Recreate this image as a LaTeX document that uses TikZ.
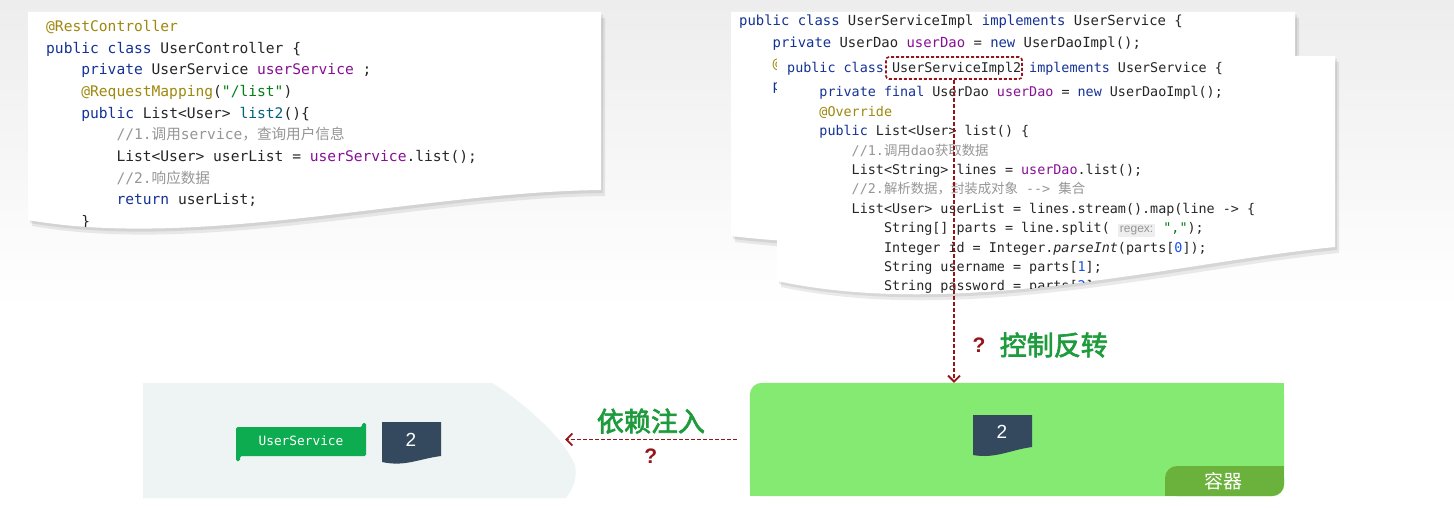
\documentclass[tikz,border=0pt]{standalone}
\usepackage{fontspec}
\usepackage{xcolor}
\usetikzlibrary{arrows.meta, positioning, calc}
\setsansfont{Liberation Sans}
\newfontfamily\codefont{DejaVu Sans Mono}
\newfontfamily\cjk{Noto Sans CJK SC}
\newfontfamily\cjkhand[FakeBold=2.5]{Noto Sans CJK SC}
\definecolor{kwblue}{RGB}{20, 50, 150}
\definecolor{fieldpurple}{RGB}{135, 16, 148}
\definecolor{annolive}{RGB}{158, 136, 13}
\definecolor{strgreen}{RGB}{6, 125, 23}
\definecolor{cmtgray}{RGB}{150, 150, 150}
\definecolor{fnteal}{RGB}{0, 98, 122}
\definecolor{numblue}{RGB}{23, 80, 235}
\definecolor{hintbg}{RGB}{238, 238, 238}
\definecolor{arrowred}{RGB}{150, 20, 25}
\definecolor{handgreen}{RGB}{30, 155, 60}
\definecolor{iocgreen}{RGB}{132, 234, 114}
\definecolor{tabgreen}{RGB}{107, 178, 60}
\definecolor{beanslate}{RGB}{52, 73, 94}
\definecolor{bannergreen}{RGB}{14, 172, 80}
\definecolor{palebg}{RGB}{238, 243, 244}
% code colouring
\newcommand{\kw}[1]{\textcolor{kwblue}{#1}}
\newcommand{\fld}[1]{\textcolor{fieldpurple}{#1}}
\newcommand{\ann}[1]{\textcolor{annolive}{#1}}
\newcommand{\strg}[1]{\textcolor{strgreen}{#1}}
\newcommand{\cmt}[1]{\textcolor{cmtgray}{#1}}
\newcommand{\fnname}[1]{\textcolor{fnteal}{#1}}
\newcommand{\numb}[1]{\textcolor{numblue}{#1}}
\newcommand{\tb}{\hspace*{2.408em}}
\newcommand{\hint}[1]{{\setlength{\fboxsep}{2pt}\colorbox{hintbg}{\sffamily\fontsize{12}{12}\selectfont\textcolor{cmtgray}{#1}}}}
% paper outlines
\newcommand{\leftpaper}{(28,12) -- (601,12) -- (601,190) .. controls (420,192) and (200,250) .. (28,220) -- cycle}
\newcommand{\backpaper}{(731,12) -- (1295,12) -- (1295,200) .. controls (1100,205) and (950,262) .. (731,236) -- cycle}
\newcommand{\frontpaper}{(777,56) -- (1335,56) -- (1335,247) .. controls (1180,262) and (960,320) .. (777,281) -- cycle}

\begin{document}
\begin{tikzpicture}[x=1pt, y=-1pt, >={Straight Barb[length=6pt, width=12pt]},
    code/.style={anchor=north west, inner sep=0pt, align=left, text=black!85},
    papershadow/.style={fill=black, opacity=0.08},
    flow/.style={->, arrowred, line width=1.8pt, dash pattern=on 4pt off 2pt},
    handlabel/.style={inner sep=0pt, text=handgreen, font=\cjkhand\fontsize{27}{27}\selectfont},
    qmark/.style={inner sep=0pt, text=arrowred, font=\sffamily\bfseries\fontsize{21}{21}\selectfont},
    beanlabel/.style={inner sep=0pt, text=white, font=\sffamily\fontsize{19}{19}\selectfont}]
    \useasboundingbox (0,0) rectangle (1454,508);
    \fill[white] (0,0) rectangle (1454,508);
    % light grey fading downwards
    \foreach \i [evaluate=\i as \op using 0.07*(1-\i/30)] in {0,...,29}
        \fill[black, opacity=\op] (0,\i*10) rectangle (1454,\i*10+10);

    % controller code
    \fill[papershadow, shift={(2,3)}] \leftpaper;
    \fill[papershadow, shift={(4,6)}] \leftpaper;
    \fill[white] \leftpaper;
    \begin{scope}
        \clip \leftpaper;
        \node[code, font=\codefont\fontsize{14.6}{21.7}\selectfont] (ctrl) at (46,20) {%
            \ann{@RestController}\\
            \kw{public class} UserController \{\\
            \tb\kw{private} UserService \fld{userService} ;\\
            \tb\ann{@RequestMapping}(\strg{"/list"})\\
            \tb\kw{public} List<User> \fnname{list2}()\{\\
            \tb\tb\cmt{//1.{\cjk 调用}service{\cjk ，查询用户信息}}\\
            \tb\tb List<User> userList = \fld{userService}.list();\\
            \tb\tb\cmt{//2.{\cjk 响应数据}}\\
            \tb\tb\kw{return} userList;\\
            \tb\}};
    \end{scope}

    % old service implementation
    \fill[papershadow, shift={(2,3)}] \backpaper;
    \fill[papershadow, shift={(4,6)}] \backpaper;
    \fill[white] \backpaper;
    \begin{scope}
        \clip \backpaper;
        \node[code, font=\codefont\fontsize{13.9}{21.5}\selectfont] (oldimpl) at (739,15) {%
            \kw{public class} UserServiceImpl \kw{implements} UserService \{\\
            \tb\kw{private} UserDao \fld{userDao} = \kw{new} UserDaoImpl();\\
            \tb\ann{@Override}\\
            \tb\kw{public} List<User> list() \{};
    \end{scope}

    % new service implementation
    \fill[papershadow, shift={(2,3)}] \frontpaper;
    \fill[papershadow, shift={(4,6)}] \frontpaper;
    \fill[white] \frontpaper;
    \begin{scope}
        \clip \frontpaper;
        \node[code, font=\codefont\fontsize{13.4}{19.4}\selectfont] (newimpl) at (787,62.5) {%
            \kw{public class} UserServiceImpl2 \kw{implements} UserService \{\\[4.5pt]
            \tb\kw{private final} UserDao \fld{userDao} = \kw{new} UserDaoImpl();\\
            \tb\ann{@Override}\\
            \tb\kw{public} List<User> list() \{\\
            \tb\tb\cmt{//1.{\cjk 调用}dao{\cjk 获取数据}}\\
            \tb\tb List<String> lines = \fld{userDao}.list();\\
            \tb\tb\cmt{//2.{\cjk 解析数据，封装成对象} -{}-> {\cjk 集合}}\\
            \tb\tb List<User> userList = lines.stream().map(line -> \{\\
            \tb\tb\tb String[] parts = line.split( \hint{regex:} \strg{","});\\
            \tb\tb\tb Integer id = Integer.\textit{parseInt}(parts[\numb{0}]);\\
            \tb\tb\tb String username = parts[\numb{1}];\\
            \tb\tb\tb String password = parts[\numb{2}];};
    \end{scope}
    \node[draw=arrowred, dash pattern=on 3pt off 2pt, line width=1.6pt, rounded corners=3pt,
        minimum width=136, minimum height=22, inner sep=0pt] (implname) at (954,68) {};

    % client side
    \fill[palebg] (143,383) -- (492,383) .. controls (505,390) and (560,430) .. (575,465)
        .. controls (578,482) and (570,492) .. (566,498) -- (143,498) -- cycle;
    \fill[bannergreen, rounded corners=1.5pt] (236,461) -- (236,427) -- (362,427) -- (362,423)
        -- (366,423) -- (366,456) -- (240,456) -- (240,461) -- cycle;
    \node[inner sep=0pt, text=white, font=\codefont\fontsize{12.8}{12.8}\selectfont] (usersvc) at (301,441) {UserService};
    \fill[beanslate] (382,422) -- (441,422) -- (441,456) .. controls (418,459) and (405,467) .. (382,462) -- cycle;
    \node[beanlabel] (injected) at (411,440) {2};

    % container
    \node[minimum width=534, minimum height=113, inner sep=0pt] (ioc) at (1017,439.5) {};
    \fill[iocgreen, rounded corners=12pt] (ioc.north west) rectangle (ioc.south east);
    \fill[iocgreen] (1260,383) rectangle (1284,405);
    \fill[iocgreen] (750,474) rectangle (772,496);
    \fill[tabgreen, rounded corners=12pt] (1165,466) rectangle (1284,496);
    \fill[tabgreen] (1262,466) rectangle (1284,480);
    \fill[tabgreen] (1165,482) rectangle (1180,496);
    \node[inner sep=0pt, text=white, font=\cjk\fontsize{19}{19}\selectfont] (tab) at (1223,481) {容器};
    \fill[beanslate] (973,415) -- (1032,415) -- (1032,447) .. controls (1010,450) and (995,459) .. (973,455) -- cycle;
    \node[beanlabel] (bean) at (1002,432) {2};

    % arrows
    \draw[flow] (implname.south) -- (implname.south |- ioc.north);
    \node[qmark] (iocq) at (979,345) {?};
    \node[handlabel, right=14pt of iocq] (iocname) {控制反转};
    \coordinate (target) at (565,439.5);
    \draw[flow] ([xshift=-13pt]ioc.west) -- (target)
        node[midway, above=5pt, handlabel] (diname) {依赖注入}
        node[midway, below=8pt, qmark] (diq) {?};
\end{tikzpicture}
\end{document}
